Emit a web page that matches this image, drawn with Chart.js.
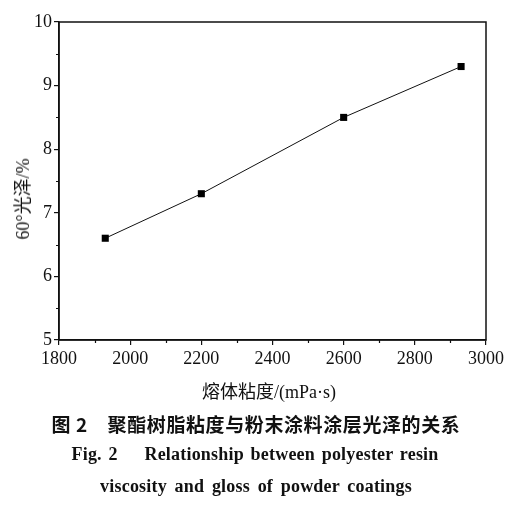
<!DOCTYPE html>
<html>
<head>
<meta charset="utf-8">
<script src="https://cdn.jsdelivr.net/npm/chart.js@4.4.1/dist/chart.umd.min.js"></script>
<style>
  html, body { margin:0; padding:0; background:#fff; }
  #wrap { position:relative; width:507px; height:506px; }
  canvas { position:absolute; left:0; top:0; }
  .t { position:absolute; white-space:nowrap; color:#111; }
  #ytitle { left:21px; top:199px; transform:translate(-50%,-50%) rotate(-90deg);
    font:18px "Liberation Serif","Noto Sans CJK SC",serif; }
  #xtitle { left:269px; top:390px; transform:translate(-50%,-50%);
    font:18px "Liberation Serif","Noto Sans CJK SC",serif; }
  #cap1 { left:256px; top:423px; transform:translate(-50%,-50%);
    font:bold 19px "Noto Sans CJK SC",sans-serif; letter-spacing:0.6px; }
  #cap2 { left:255px; top:454px; transform:translate(-50%,-50%);
    font:bold 18px "Liberation Serif",serif; word-spacing:2px; letter-spacing:0.2px; }
  #cap3 { left:256px; top:486px; transform:translate(-50%,-50%);
    font:bold 18px "Liberation Serif",serif; word-spacing:3px; letter-spacing:0.2px; }
</style>
</head>
<body>
<div id="wrap">
  <canvas id="c" width="507" height="506"></canvas>
  <div class="t" id="ytitle">60°光泽/%</div>
  <div class="t" id="xtitle">熔体粘度/(mPa·s)</div>
  <div class="t" id="cap1">图 2&nbsp;&nbsp;&nbsp;&nbsp;聚酯树脂粘度与粉末涂料涂层光泽的关系</div>
  <div class="t" id="cap2">Fig. 2&nbsp;&nbsp;&nbsp;&nbsp;Relationship between polyester resin</div>
  <div class="t" id="cap3">viscosity and gloss of powder coatings</div>
</div>
<script>
const viscosity = [1930, 2200, 2600, 2930];
const gloss = [6.6, 7.3, 8.5, 9.3];
const xMinorTicks = [1900, 2100, 2300, 2500, 2700, 2900];
const yMinorTicks = [5.5, 6.5, 7.5, 8.5, 9.5];

const serif = '"Liberation Serif", "Times New Roman", serif';

// minor ticks drawn from the scales, shorter than the major ones
const minorTicks = {
  id: 'minorTicks',
  afterDraw(chart){
    const ctx = chart.ctx, xs = chart.scales.x, ys = chart.scales.y;
    ctx.save();
    ctx.strokeStyle = '#111';
    ctx.lineWidth = 1.2;
    ctx.beginPath();
    xMinorTicks.forEach(v => {
      const px = Math.round(xs.getPixelForValue(v)) + 0.5;
      ctx.moveTo(px, ys.bottom); ctx.lineTo(px, ys.bottom + 3);
    });
    yMinorTicks.forEach(v => {
      const py = Math.round(ys.getPixelForValue(v)) + 0.5;
      ctx.moveTo(xs.left, py); ctx.lineTo(xs.left - 3, py);
    });
    ctx.stroke();
    // top and right frame
    ctx.lineWidth = 1.5;
    ctx.strokeRect(xs.left, ys.top, xs.right - xs.left, ys.bottom - ys.top);
    ctx.restore();
  }
};

new Chart(document.getElementById('c'), {
  type: 'scatter',
  data: {
    datasets: [{
      data: viscosity.map((v, i) => ({ x: v, y: gloss[i] })),
      showLine: true,
      borderColor: '#111',
      borderWidth: 1,
      pointStyle: 'rect',
      pointRadius: 5,
      pointHoverRadius: 5,
      pointBackgroundColor: '#000',
      pointBorderColor: '#000',
      pointBorderWidth: 0
    }]
  },
  options: {
    responsive: false,
    animation: false,
    devicePixelRatio: 1,
    layout: { padding: { left: 0, top: 22, right: 21, bottom: 136 } },
    plugins: { legend: { display: false }, tooltip: { enabled: false } },
    scales: {
      x: {
        type: 'linear', min: 1800, max: 3000,
        ticks: { stepSize: 200, color: '#111', padding: 3, maxRotation: 0,
                 font: { family: serif, size: 18 },
                 callback: v => String(v) },
        grid: { drawOnChartArea: false, drawTicks: true, tickLength: 5, color: '#111', lineWidth: 1.2 },
        border: { display: true, color: '#111', width: 1.5 },
        afterFit(scale){ scale.height = 30; }
      },
      y: {
        min: 5, max: 10,
        ticks: { stepSize: 1, color: '#111', padding: 2,
                 font: { family: serif, size: 18 },
                 callback: v => String(v) },
        grid: { drawOnChartArea: false, drawTicks: true, tickLength: 5, color: '#111', lineWidth: 1.2 },
        border: { display: true, color: '#111', width: 1.5 },
        afterFit(scale){ scale.width = 59; }
      }
    }
  },
  plugins: [minorTicks]
});
</script>
</body>
</html>
